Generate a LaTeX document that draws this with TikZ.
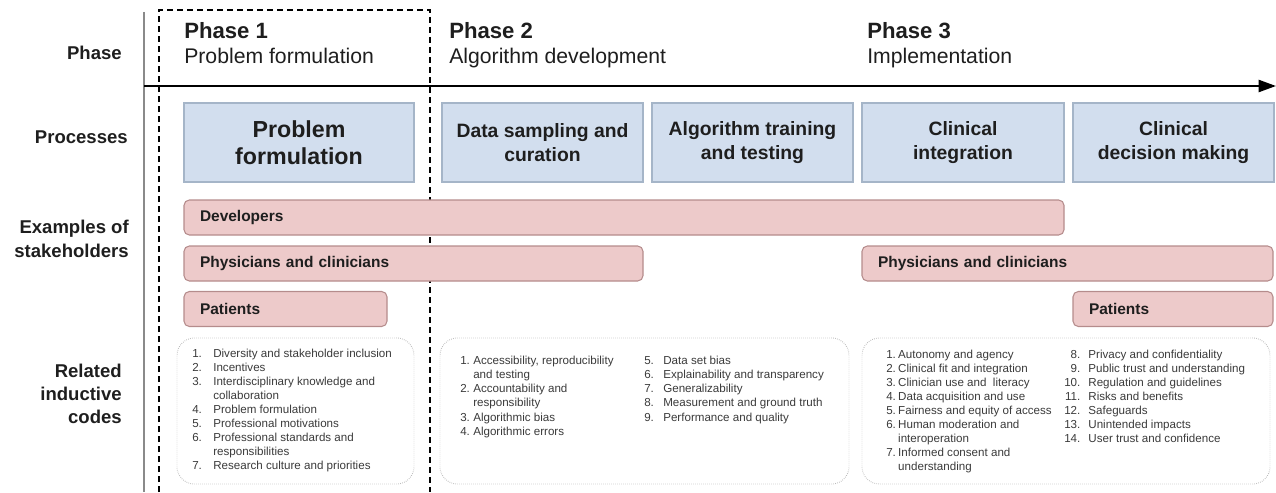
\documentclass[tikz,border=0pt]{standalone}
\usepackage{fontspec}
\setmainfont{Liberation Sans}
\usetikzlibrary{arrows.meta}

\definecolor{procfill}{HTML}{D2DEEE}
\definecolor{procdraw}{HTML}{A5B5C8}
\definecolor{stakefill}{HTML}{EDCACA}
\definecolor{stakedraw}{HTML}{B58C8C}
\definecolor{ink}{HTML}{1E1E1E}
\definecolor{listink}{HTML}{3A3A3A}
\definecolor{codeline}{HTML}{B5B5B5}
\definecolor{axisgray}{HTML}{8A8A8A}

\newcommand{\listfont}{\fontsize{8.7}{10.5}\selectfont}

\begin{document}
\begin{tikzpicture}[x=0.75pt,y=-0.75pt,
  rowlabel/.style={anchor=base east,inner sep=0pt,text=ink,font=\fontsize{13.9}{17.5}\selectfont\bfseries,align=right},
  phasetitle/.style={anchor=base west,inner sep=0pt,text=ink,font=\fontsize{16.6}{20}\selectfont\bfseries},
  phasesub/.style={anchor=base west,inner sep=0pt,text=ink,font=\fontsize{15.9}{19}\selectfont},
  procbox/.style={draw=procdraw,fill=procfill,line width=0.8pt,inner sep=0pt,
    minimum height=79*0.75pt,text=ink,align=center,
    font=\fontsize{14.5}{18}\selectfont\bfseries},
  stakebar/.style={draw=stakedraw,fill=stakefill,line width=0.8pt,rounded corners=4pt,
    minimum height=35*0.75pt,inner ysep=0pt,inner xsep=12pt,align=left,text=ink,
    font=\fontsize{11.6}{14}\selectfont\bfseries},
  codebox/.style={draw=codeline,line width=0.7pt,dash pattern=on 0.5pt off 1pt,
    rounded corners=13pt,minimum height=146*0.75pt,inner sep=0pt},
  codelist/.style={anchor=base west,inner sep=0pt,text=listink,font=\listfont},
  phaseframe/.style={draw=black,line width=1.1pt,dash pattern=on 4.5pt off 3pt},
  timeline/.style={draw=black,line width=1.7pt,-{Triangle[length=13pt,width=9pt]}}
]
\useasboundingbox (0,0) rectangle (1276,492);

% left axis and phase timeline
\coordinate (axtop) at (144,12);
\coordinate (axbot) at (144,492);
\draw[axisgray,line width=0.9pt] (axtop) -- (axbot);
\coordinate (tlstart) at (144,86);
\coordinate (tlend) at (1276,86);
\draw[timeline] (tlstart) -- (tlend);

% dashed frame around phase 1
\coordinate (f1) at (159,492);
\coordinate (f2) at (159,10);
\coordinate (f3) at (430,10);
\coordinate (f4) at (430,492);
\draw[phaseframe] (f1) -- (f2) -- (f3) -- (f4);

% row labels
\node[rowlabel] (lphase) at (122,60) {Phase};
\node[rowlabel] (lproc) at (128,143) {Processes};
\node[rowlabel] (lstake1) at (129,233) {Examples of};
\node[rowlabel] (lstake2) at (129,257) {stakeholders};
\node[rowlabel] (lcode1) at (122,377) {Related};
\node[rowlabel] (lcode2) at (122,400) {inductive};
\node[rowlabel] (lcode3) at (122,423) {codes};

% phase headings
\node[phasetitle] (p1t) at (184,39) {Phase 1};
\node[phasesub] (p1s) at (184,64) {Problem formulation};
\node[phasetitle] (p2t) at (449,39) {Phase 2};
\node[phasesub] (p2s) at (449,64) {Algorithm development};
\node[phasetitle] (p3t) at (867,39) {Phase 3};
\node[phasesub] (p3s) at (867,64) {Implementation};

% processes
\node[procbox,minimum width=230*0.75pt,font=\fontsize{17.4}{20.5}\selectfont\bfseries] (pr1) at (299,142.5) {Problem\\formulation};
\node[procbox,minimum width=201*0.75pt] (pr2) at (542.5,142.5) {Data sampling and\\curation};
\node[procbox,minimum width=201*0.75pt] (pr3) at (752.5,142.5) {Algorithm training\\and testing};
\node[procbox,minimum width=202*0.75pt] (pr4) at (963,142.5) {Clinical\\integration};
\node[procbox,minimum width=201*0.75pt] (pr5) at (1173.5,142.5) {Clinical\\decision making};

% stakeholders
\node[stakebar,text width=(880-32)*0.75pt] (dev) at (624,217.5) {Developers};
\node[stakebar,text width=(459-32)*0.75pt] (phys1) at (413.5,263.5) {Physicians and clinicians};
\node[stakebar,text width=(203-32)*0.75pt] (pat1) at (285.5,309) {Patients};
\node[stakebar,text width=(411-32)*0.75pt] (phys2) at (1067.5,263.5) {Physicians and clinicians};
\node[stakebar,text width=(200-32)*0.75pt] (pat2) at (1173,309) {Patients};

% related inductive codes
\node[codebox,minimum width=237*0.75pt] (cb1) at (295.5,411) {};
\node[codebox,minimum width=409*0.75pt] (cb2) at (644.5,411) {};
\node[codebox,minimum width=408*0.75pt] (cb3) at (1066,411) {};

\node[codelist] (c1) at (192,357) {\begin{tabular}[t]{@{}r@{\hspace{8.5pt}}l@{}}
1. & Diversity and stakeholder inclusion\\
2. & Incentives\\
3. & Interdisciplinary knowledge and\\
   & collaboration\\
4. & Problem formulation\\
5. & Professional motivations\\
6. & Professional standards and\\
   & responsibilities\\
7. & Research culture and priorities
\end{tabular}};

\node[codelist] (c2a) at (460,364) {\fontsize{8.7}{10.7}\selectfont\begin{tabular}[t]{@{}r@{\hspace{2.5pt}}l@{}}
1. & Accessibility, reproducibility\\
   & and testing\\
2. & Accountability and\\
   & responsibility\\
3. & Algorithmic bias\\
4. & Algorithmic errors
\end{tabular}};

\node[codelist] (c2b) at (644,364) {\fontsize{8.7}{10.7}\selectfont\begin{tabular}[t]{@{}r@{\hspace{7pt}}l@{}}
5. & Data set bias\\
6. & Explainability and transparency\\
7. & Generalizability\\
8. & Measurement and ground truth\\
9. & Performance and quality
\end{tabular}};

\node[codelist] (c3a) at (886,358) {\begin{tabular}[t]{@{}r@{\hspace{1.7pt}}l@{}}
1. & Autonomy and agency\\
2. & Clinical fit and integration\\
3. & Clinician use and\ \ literacy\\
4. & Data acquisition and use\\
5. & Fairness and equity of access\\
6. & Human moderation and\\
   & interoperation\\
7. & Informed consent and\\
   & understanding
\end{tabular}};

\node[codelist] (c3b) at (1064,358) {\begin{tabular}[t]{@{}r@{\hspace{6pt}}l@{}}
8. & Privacy and confidentiality\\
9. & Public trust and understanding\\
10. & Regulation and guidelines\\
11. & Risks and benefits\\
12. & Safeguards\\
13. & Unintended impacts\\
14. & User trust and confidence
\end{tabular}};
\end{tikzpicture}
\end{document}
